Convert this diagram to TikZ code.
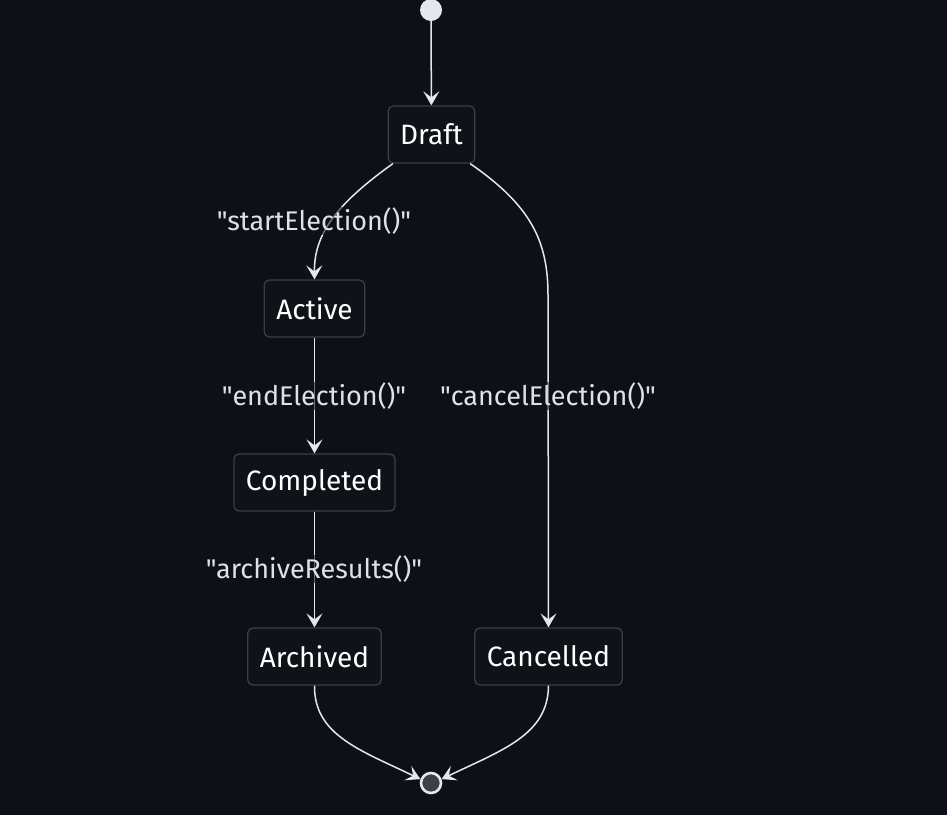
\documentclass[tikz,border=0pt]{standalone}
\usepackage{fontspec}
\setmainfont{Fira Sans}
\newfontfamily\labfont{Fira Sans}
\usetikzlibrary{arrows.meta,positioning}

\definecolor{bgcol}{HTML}{0D1017}
\definecolor{boxcol}{HTML}{0F1218}
\definecolor{edgecol}{HTML}{3A3E46}
\definecolor{linecol}{HTML}{E4E7EE}
\definecolor{labcol}{HTML}{DCE2EB}
\definecolor{endcol}{HTML}{3C4048}

\newcommand{\qt}[1]{\symbol{34}#1\symbol{34}}

\tikzset{
  state/.style={draw=edgecol, line width=1.3pt, fill=boxcol, rounded corners=5pt,
    minimum height=57pt, inner xsep=12pt, text=white,
    font=\fontsize{28}{32}\selectfont},
  trans/.style={line width=1.5pt, draw=linecol,
    -{Stealth[length=14pt,width=16pt,inset=6pt]}},
  lab/.style={fill=bgcol, fill opacity=0.55, text opacity=1, text=labcol,
    inner sep=1pt, font=\labfont\fontsize{27}{32}\selectfont}
}

\begin{document}
\begin{tikzpicture}[x=1pt, y=-1pt]
  % Background
  \fill[bgcol] (0,0) rectangle (947,815);
  \useasboundingbox (0,0) rectangle (947,815);

  % States
  \node[circle, fill=linecol, minimum size=22pt, inner sep=0pt] (start) at (431,10) {};
  \node[state] (draft) at (431.5,134.5) {Draft};
  \node[state] (active) at (314.5,308.5) {Active};
  \node[state] (completed) at (314.5,482.5) {Completed};
  \node[state] (archived) at (314.5,656.5) {Archived};
  \node[state] (cancelled) at (548.5,656.5) {Cancelled};
  \node[circle, draw=linecol, line width=2.6pt, fill=endcol, minimum size=20pt,
    inner sep=0pt] (end) at (431,783) {};

  % Transitions
  \draw[trans] (start) -- (draft);
  \draw[trans] (draft.-143) .. controls (335,205) and (314,235) .. (active.north);
  \draw[trans] (active) -- (completed);
  \draw[trans] (completed) -- (archived);
  \draw[trans] (draft.-37) .. controls (530,205) and (548,240) .. (548,295)
    -- (cancelled.north);
  \draw[trans] (archived.south) .. controls (314,735) and (360,750) .. (end.160);
  \draw[trans] (cancelled.south) .. controls (548,735) and (502,750) .. (end.20);

  % Labels
  \node[lab] (l1) at (314,221) {\qt{startElection()}};
  \node[lab] (l2) at (314,396) {\qt{endElection()}};
  \node[lab] (l3) at (548,396) {\qt{cancelElection()}};
  \node[lab] (l4) at (314,569) {\qt{archiveResults()}};
\end{tikzpicture}
\end{document}
